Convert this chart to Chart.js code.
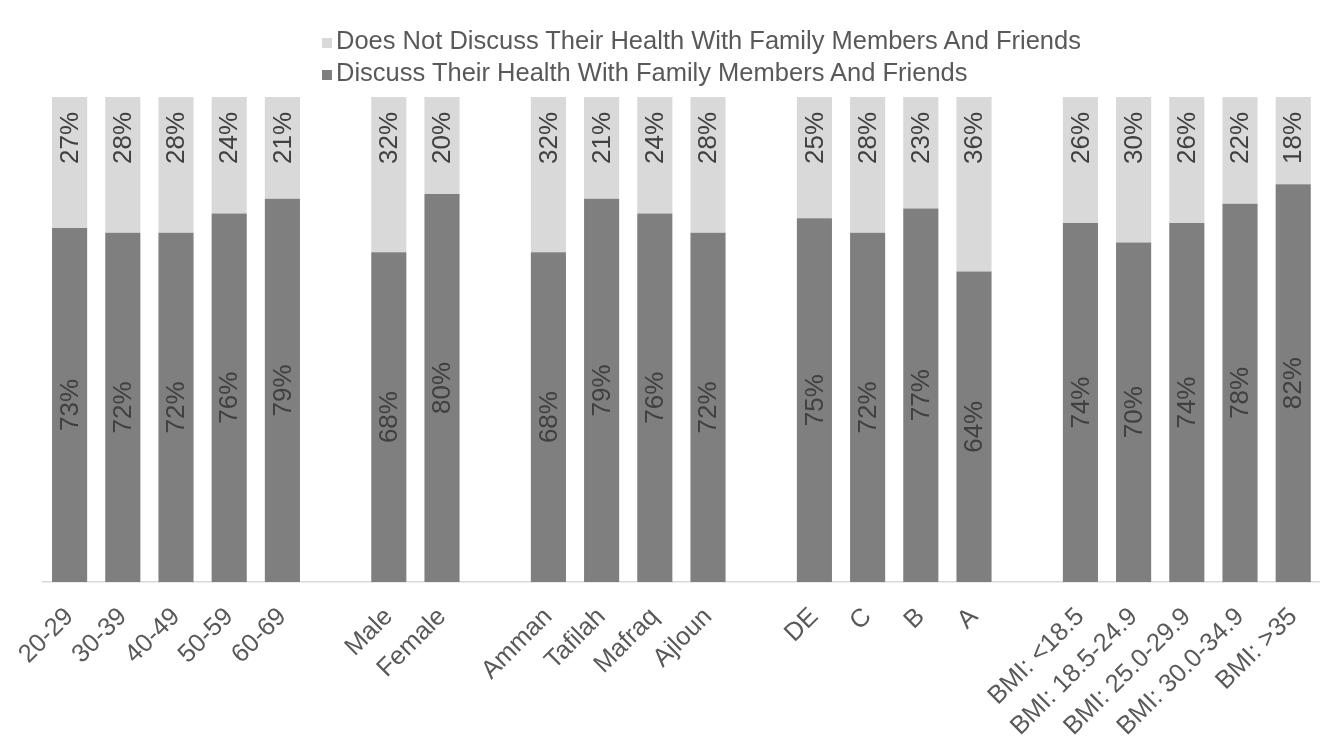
<!DOCTYPE html>
<html>
<head>
<meta charset="utf-8">
<script src="https://cdn.jsdelivr.net/npm/chart.js@4/dist/chart.umd.min.js"></script>
<style>
  html, body { margin: 0; padding: 0; background: #fff; }
  #wrap { position: relative; width: 1327px; height: 740px; }
  #legend { position: absolute; left: 322px; top: 24px; font-family: "Liberation Sans", Arial, sans-serif; font-size: 25.5px; color: #595959; }
  #legend div { height: 32px; line-height: 32px; white-space: nowrap; }
  #legend span.box { display: inline-block; width: 10px; height: 10px; margin-right: 4px; vertical-align: 1px; }
</style>
</head>
<body>
<div id="wrap">
  <canvas id="healthChart" width="1327" height="740"></canvas>
  <div id="legend"></div>
</div>
<script>
// categories (empty strings are the gaps between groups)
const categories = ['20-29','30-39','40-49','50-59','60-69','',
  'Male','Female','',
  'Amman','Tafilah','Mafraq','Ajloun','',
  'DE','C','B','A','',
  'BMI: <18.5','BMI: 18.5-24.9','BMI: 25.0-29.9','BMI: 30.0-34.9','BMI: >35'];

const discussValues = [73,72,72,76,79,null, 68,80,null, 68,79,76,72,null, 75,72,77,64,null, 74,70,74,78,82];
const notDiscussValues = [27,28,28,24,21,null, 32,20,null, 32,21,24,28,null, 25,28,23,36,null, 26,30,26,22,18];

const FONT = '"Liberation Sans", Arial, sans-serif';

// draws the % labels rotated inside the bars
const barLabels = {
    id: 'barLabels',
    afterDatasetsDraw(chart) {
        const ctx = chart.ctx;
        chart.data.datasets.forEach((ds, i) => {
            const meta = chart.getDatasetMeta(i);
            meta.data.forEach((bar, j) => {
                const v = ds.data[j];
                if (v == null) return;
                const p = bar.getProps(['x','y','base'], true);
                ctx.save();
                if (i === 0) {
                    ctx.translate(p.x, (p.y + p.base) / 2);
                    ctx.textAlign = 'center';
                } else {
                    ctx.translate(p.x, p.y + 15);
                    ctx.textAlign = 'right';
                }
                ctx.rotate(-Math.PI / 2);
                ctx.textBaseline = 'middle';
                ctx.fillStyle = '#404040';
                ctx.font = '26px ' + FONT;
                ctx.fillText(v + '%', 0, 1);
                ctx.restore();
            });
        });
    }
};

const ctx = document.getElementById('healthChart').getContext('2d');
const healthChart = new Chart(ctx, {
    type: 'bar',
    data: {
        labels: categories,
        datasets: [{
            label: 'Discuss Their Health With Family Members And Friends',
            data: discussValues,
            backgroundColor: '#7f7f7f'
        }, {
            label: 'Does Not Discuss Their Health With Family Members And Friends',
            data: notDiscussValues,
            backgroundColor: '#d9d9d9'
        }]
    },
    options: {
        responsive: false,
        animation: false,
        events: [],
        layout: {
            padding: { top: 97, left: 43, right: 7, bottom: 0 }
        },
        datasets: {
            bar: { categoryPercentage: 1, barPercentage: 0.66 }
        },
        scales: {
            x: {
                stacked: true,
                grid: { display: false },
                border: { color: '#d9d9d9', width: 1.5 },
                afterFit: (scale) => { scale.height = 158; },
                ticks: {
                    autoSkip: false,
                    maxRotation: 45,
                    minRotation: 45,
                    padding: 12,
                    color: '#595959',
                    font: { family: FONT, size: 25.5 }
                }
            },
            y: {
                stacked: true,
                display: false,
                min: 0,
                max: 100
            }
        },
        plugins: {
            legend: { display: false },
            tooltip: { enabled: false }
        }
    },
    plugins: [barLabels]
});

// legend: top entry is the upper stack segment
const legendEl = document.getElementById('legend');
healthChart.data.datasets.slice().reverse().forEach(ds => {
    const row = document.createElement('div');
    const box = document.createElement('span');
    box.className = 'box';
    box.style.background = ds.backgroundColor;
    row.appendChild(box);
    row.appendChild(document.createTextNode(ds.label));
    legendEl.appendChild(row);
});
</script>
</body>
</html>
